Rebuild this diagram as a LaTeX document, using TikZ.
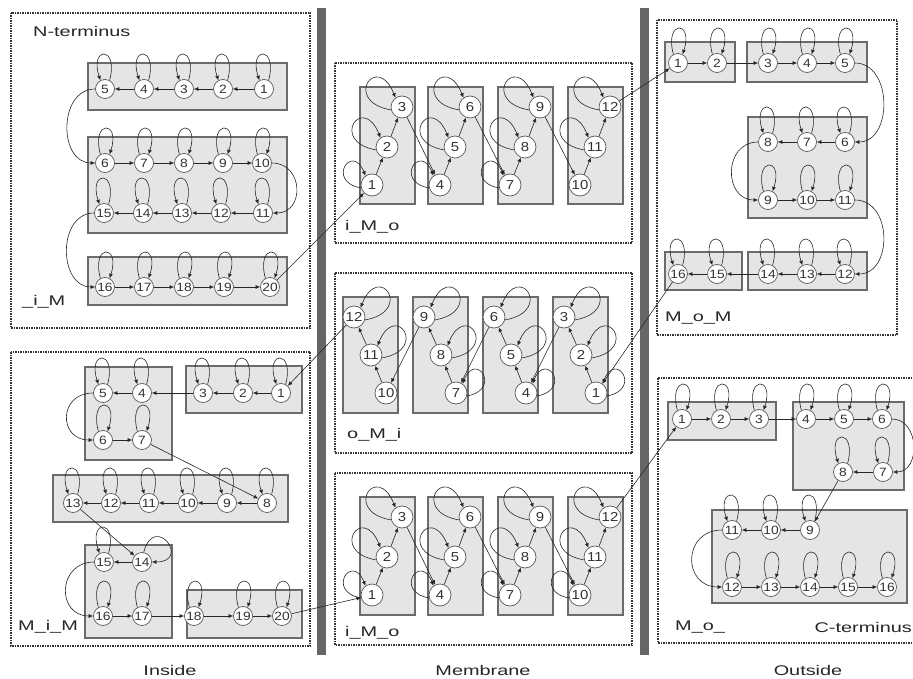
\documentclass[tikz,border=0pt]{standalone}
\usepackage{graphicx}
\usepackage{fontspec}
\setmainfont{Liberation Sans}
\usetikzlibrary{arrows.meta}
\newcommand\nlbl[1]{\scalebox{1.15}[1]{#1}}
\newcommand\tlbl[1]{\scalebox{1.42}[1]{#1}}
% y axis is flipped: xyz polar angle -a = canvas angle a
\newcommand\lpL[1]{\draw[arr] (#1.62) .. controls +(-75:36) and +(-108:36) .. (#1.118);}
\newcommand\lpR[1]{\draw[arr] (#1.118) .. controls +(-105:36) and +(-72:36) .. (#1.62);}
\newcommand\lbL[2]{\draw[arr] (#1.195) .. controls +(-170:#2) and +(-112:#2) .. (#1.125);}
\newcommand\lbR[2]{\draw[arr] (#1.345) .. controls +(-10:#2) and +(-68:#2) .. (#1.55);}
\begin{document}
\begin{tikzpicture}[x=1pt,y=-1pt,
 st/.style={circle, draw=black!65, fill=white, line width=0.7pt, minimum size=19pt, inner sep=0pt, font=\fontsize{12}{12}\selectfont, text=black!80},
 mst/.style={st, minimum size=22pt, font=\fontsize{13}{13}\selectfont},
 sbox/.style={draw=black!58, fill=black!10, line width=1.3pt},
 dbox/.style={draw=black!80, densely dotted, line width=1.5pt},
 arr/.style={draw=black!85, line width=0.6pt, -{Latex[length=4.5pt,width=4pt]}},
 lab/.style={font=\fontsize{14}{14}\selectfont, inner sep=0pt, text=black!85}]
\useasboundingbox (0,0) rectangle (913,679);
\clip (0,0) rectangle (913,679);
% membrane walls
\fill[black!60] (317,8) rectangle (326,655);
\fill[black!60] (640,8) rectangle (649,655);
% outer dotted boxes
\draw[dbox] (11,13) rectangle (310,328);
\draw[dbox] (11,352) rectangle (310,646);
\draw[dbox] (335,63) rectangle (632,243);
\draw[dbox] (335,273) rectangle (632,453);
\draw[dbox] (335,473) rectangle (632,645);
\draw[dbox] (657,20) rectangle (897,335);
\draw[dbox] (658,378) rectangle (925,643);
% shaded boxes
\draw[sbox] (88,63) rectangle (287,110);
\draw[sbox] (88,137) rectangle (287,233);
\draw[sbox] (88,257) rectangle (287,305);
\draw[sbox] (85,367) rectangle (172,460);
\draw[sbox] (186,366) rectangle (302,413);
\draw[sbox] (53,475) rectangle (288,522);
\draw[sbox] (85,545) rectangle (172,638);
\draw[sbox] (187,590) rectangle (302,638);
\foreach \l in {360,428,498,568} {\draw[sbox] (\l,87) rectangle ++(55,117);}
\foreach \l in {343,413,483,553} {\draw[sbox] (\l,297) rectangle ++(55,116);}
\foreach \l in {360,428,498,568} {\draw[sbox] (\l,497) rectangle ++(55,118);}
\draw[sbox] (665,42) rectangle (735,82);
\draw[sbox] (747,42) rectangle (867,82);
\draw[sbox] (748,117) rectangle (867,218);
\draw[sbox] (665,252) rectangle (742,290);
\draw[sbox] (748,252) rectangle (867,290);
\draw[sbox] (668,402) rectangle (776,440);
\draw[sbox] (793,402) rectangle (904,490);
\draw[sbox] (712,510) rectangle (907,603);
% ---------- nodes ----------
\foreach \n/\x/\y in {5/105/89,4/144/89,3/184/89,2/223/89,1/264/89,
  6/105/163,7/144/163,8/184/163,9/223/163,10/262/163,
  15/104/213,14/143/213,13/182/213,12/221/213,11/263/213,
  16/105/287,17/144/287,18/184/287,19/224/287,20/270/287}
  {\node[st] (a\n) at (\x,\y) {\nlbl{\n}};}
\foreach \n/\x/\y in {5/103/393,4/142/393,3/203/393,2/243/393,1/281/393,
  6/103/440,7/142/440,
  13/73/503,12/111/503,11/149/503,10/188/503,9/227/503,8/267/503,
  15/104/562,14/142/562,16/103/616,17/142/616,18/194/616,19/243/616,20/282/616}
  {\node[st] (b\n) at (\x,\y) {\nlbl{\n}};}
\foreach \n/\x/\y in {1/372/185,2/387/147,3/402/107,4/440/185,5/455/147,6/470/107,
  7/510/185,8/525/147,9/540/107,10/580/185,11/595/147,12/610/107}
  {\node[mst] (c\n) at (\x,\y) {\nlbl{\n}};
   \node[mst] (e\n) at (\x,\y+410) {\nlbl{\n}};}
\foreach \n/\x/\y in {12/354/317,11/371/355,10/386/393,9/424/317,8/441/355,7/456/393,
  6/494/317,5/511/355,4/526/393,3/564/317,2/581/355,1/596/393}
  {\node[mst] (d\n) at (\x,\y) {\nlbl{\n}};}
\foreach \n/\x/\y in {1/678/63,2/717/63,3/768/63,4/807/63,5/845/63,
  8/768/142,7/807/142,6/845/142,9/768/200,10/807/200,11/845/200,
  16/678/274,15/717/274,14/768/274,13/807/274,12/845/274}
  {\node[st] (f\n) at (\x,\y) {\nlbl{\n}};}
\foreach \n/\x/\y in {1/682/419,2/721/419,3/759/419,4/806/419,5/844/419,6/882/419,
  8/843/472,7/883/472,11/732/530,10/771/530,9/810/530,
  12/732/587,13/771/587,14/810/587,15/848/587,16/887/587}
  {\node[st] (g\n) at (\x,\y) {\nlbl{\n}};}
% ---------- N-terminus / _i_M ----------
\foreach \u/\v in {1/2,2/3,3/4,4/5,6/7,7/8,8/9,9/10,11/12,12/13,13/14,14/15,16/17,17/18,18/19,19/20}
  {\draw[arr] (a\u) -- (a\v);}
\foreach \n in {1,2,3,4,5,11,12,13,14,15} {\lpL{a\n}}
\foreach \n in {6,7,8,9,10,16,17,18,19,20} {\lpR{a\n}}
\draw[arr] (a5.west) .. controls +(-37,0) and +(-37,0) .. (a6.west);
\draw[arr] (a10.east) .. controls +(32,0) and +(32,0) .. (a11.east);
\draw[arr] (a15.west) .. controls +(-37,0) and +(-37,0) .. (a16.west);
\draw[arr] (a20) -- (c1);
% ---------- M_i_M ----------
\foreach \u/\v in {1/2,2/3,3/4,4/5,6/7,7/8,8/9,9/10,10/11,11/12,12/13,13/14,14/15,16/17,17/18,18/19,19/20}
  {\draw[arr] (b\u) -- (b\v);}
\foreach \n in {1,2,3,4,5,8,9,10,11,12,13,15} {\lpL{b\n}}
\foreach \n in {6,7,16,17,18,19,20} {\lpR{b\n}}
\draw[arr] (b14.80) .. controls +(-75:42) and +(0:40) .. (b14.0);
\draw[arr] (b5.west) .. controls +(-35,0) and +(-35,0) .. (b6.west);
\draw[arr] (b15.west) .. controls +(-37,0) and +(-37,0) .. (b16.west);
\draw[arr] (b20) -- (e1);
% ---------- membrane ----------
\foreach \u/\v in {1/2,2/3,3/4,4/5,5/6,6/7,7/8,8/9,9/10,10/11,11/12}
  {\draw[arr] (c\u) -- (c\v); \draw[arr] (e\u) -- (e\v); \draw[arr] (d\u) -- (d\v);}
\foreach \n/\d in {1/36,2/48,3/50,4/36,5/48,6/50,7/36,8/48,9/50,11/48,12/50} {\lbL{c\n}{\d}}
\foreach \n/\d in {1/36,2/48,3/50,4/36,5/48,6/50,7/36,8/48,9/50,10/36,11/48,12/50} {\lbL{e\n}{\d}}
\foreach \n/\d in {1/36,2/48,3/50,4/36,5/48,6/50,7/36,8/48,9/50,11/48,12/50} {\lbR{d\n}{\d}}
\draw[arr] (c12) -- (f1);
\draw[arr] (d12) -- (b1);
\draw[arr] (e12) -- (g1);
% ---------- M_o_M ----------
\foreach \u/\v in {1/2,2/3,3/4,4/5,6/7,7/8,9/10,10/11,12/13,13/14,14/15,15/16}
  {\draw[arr] (f\u) -- (f\v);}
\foreach \n in {1,2,3,4,5,9,10,11} {\lpR{f\n}}
\foreach \n in {6,7,8,12,13,14,15,16} {\lpL{f\n}}
\draw[arr] (f5.east) .. controls +(38,0) and +(38,0) .. (f6.east);
\draw[arr] (f8.west) .. controls +(-35,0) and +(-35,0) .. (f9.west);
\draw[arr] (f11.east) .. controls +(38,0) and +(38,0) .. (f12.east);
\draw[arr] (f16) -- (d1);
% ---------- M_o_ ----------
\foreach \u/\v in {1/2,2/3,3/4,4/5,5/6,7/8,8/9,9/10,10/11,12/13,13/14,14/15,15/16}
  {\draw[arr] (g\u) -- (g\v);}
\foreach \n in {1,2,3,4,5,6,12,13,14,15,16} {\lpR{g\n}}
\foreach \n in {7,8,9,10,11} {\lpL{g\n}}
\draw[arr] (g6.east) .. controls +(28,0) and +(28,0) .. (g7.east);
\draw[arr] (g11.west) .. controls +(-40,0) and +(-40,0) .. (g12.west);
% ---------- labels ----------
\node[lab,anchor=west] (tN) at (33,31) {\tlbl{N-terminus}};
\node[lab,anchor=west] (tiM) at (22,302) {\tlbl{\_i\_M}};
\node[lab,anchor=west] (tMiM) at (18,627) {\tlbl{M\_i\_M}};
\node[lab,anchor=west] (tiMo1) at (345,227) {\tlbl{i\_M\_o}};
\node[lab,anchor=west] (toMi) at (347,435) {\tlbl{o\_M\_i}};
\node[lab,anchor=west] (tiMo2) at (345,633) {\tlbl{i\_M\_o}};
\node[lab,anchor=west] (tMoM) at (665,318) {\tlbl{M\_o\_M}};
\node[lab,anchor=west] (tMo) at (675,627) {\tlbl{M\_o\_}};
\node[lab,anchor=east] (tC) at (912,627) {\tlbl{C-terminus}};
\node[lab] (tIn) at (170,670) {\tlbl{Inside}};
\node[lab] (tMem) at (483,670) {\tlbl{Membrane}};
\node[lab] (tOut) at (808,670) {\tlbl{Outside}};
\end{tikzpicture}
\end{document}
